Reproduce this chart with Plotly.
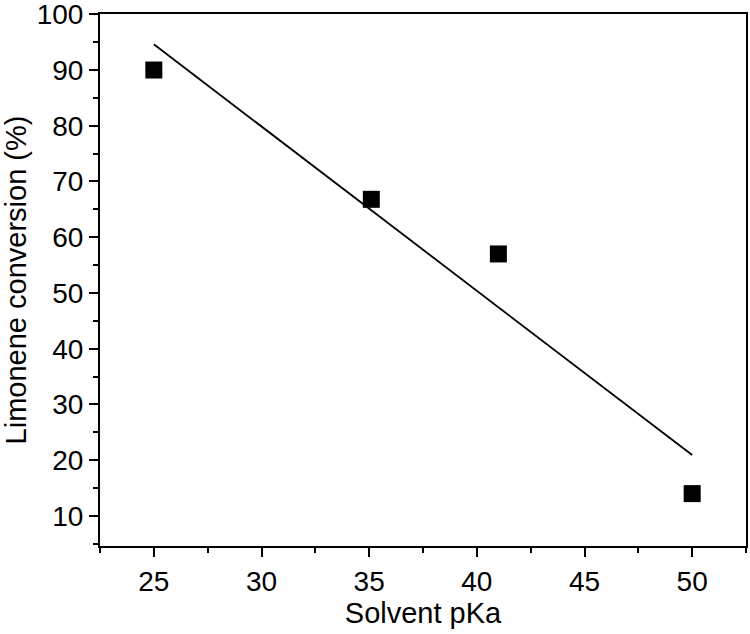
import numpy as np
import plotly.graph_objects as go

pka = [25, 35.1, 41, 50]
conversion = [90, 66.8, 57, 14]

slope, intercept = np.polyfit(pka, conversion, 1)
fit_x = [min(pka), max(pka)]
fit_y = [slope * x + intercept for x in fit_x]

FONT = "Liberation Sans, Arial"

fig = go.Figure()
fig.add_trace(go.Scatter(x=fit_x, y=fit_y, mode="lines",
                         line=dict(color="black", width=1.8), showlegend=False))
fig.add_trace(go.Scatter(x=pka, y=conversion, mode="markers",
                         marker=dict(symbol="square", size=17, color="black"),
                         showlegend=False))

axis_common = dict(showline=True, linecolor="black", linewidth=2, mirror=True,
                   ticks="outside", ticklen=9, tickwidth=2, tickcolor="black",
                   showgrid=False, zeroline=False, ticklabeloverflow="allow",
                   tickfont=dict(family=FONT, size=28, color="black"),
                   minor=dict(ticks="outside", ticklen=5, tickwidth=2, tickcolor="black"))

fig.update_xaxes(range=[22.5, 52.5], tickvals=[25, 30, 35, 40, 45, 50],
                 minor_dtick=2.5,
                 title=dict(text="Solvent pKa", font=dict(family=FONT, size=29, color="black"),
                            standoff=4),
                 **axis_common)
fig.update_yaxes(range=[4.6, 100.05], tickvals=[10, 20, 30, 40, 50, 60, 70, 80, 90, 100],
                 minor_dtick=5,
                 title=dict(text="Limonene conversion (%)", font=dict(family=FONT, size=29, color="black"),
                            standoff=25),
                 **axis_common)

fig.update_layout(width=750, height=634, plot_bgcolor="white", paper_bgcolor="white",
                  margin=dict(l=100, r=4, t=14, b=88, autoexpand=False))
fig.write_html("out.html")
